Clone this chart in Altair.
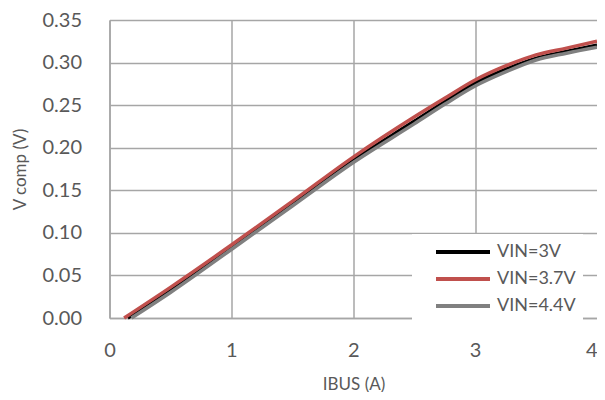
import altair as alt
import pandas as pd

series_labels = ["VIN=3V", "VIN=3.7V", "VIN=4.4V"]
series_colors = ["#000000", "#c0504d", "#808080"]

ibus_3v = [0.15, 0.5, 1.0, 1.5, 2.0, 2.5, 2.75, 3.0, 3.25, 3.5, 3.75, 4.0]
vcomp_3v = [0.0, 0.033, 0.0834, 0.1345, 0.1856, 0.231, 0.254, 0.276, 0.292, 0.305, 0.313, 0.3206]

ibus_37v = [0.12, 0.5, 1.0, 1.5, 2.0, 2.5, 2.75, 3.0, 3.25, 3.5, 3.75, 4.0]
vcomp_37v = [0.0, 0.036, 0.0857, 0.137, 0.189, 0.236, 0.258, 0.2795, 0.296, 0.309, 0.317, 0.325]

ibus_44v = [0.18, 0.5, 1.0, 1.5, 2.0, 2.5, 2.75, 3.0, 3.25, 3.5, 3.75, 4.0]
vcomp_44v = [0.0, 0.030, 0.0805, 0.1315, 0.1826, 0.228, 0.251, 0.2725, 0.289, 0.303, 0.311, 0.318]

x_ticks = [0, 1, 2, 3, 4]
y_ticks = [0.0, 0.05, 0.10, 0.15, 0.20, 0.25, 0.30, 0.35]

rows = []
for lab, xs, ys in zip(series_labels,
                       [ibus_3v, ibus_37v, ibus_44v],
                       [vcomp_3v, vcomp_37v, vcomp_44v]):
    for i, (a, b) in enumerate(zip(xs, ys)):
        rows.append({"series": lab, "I": a, "V": b, "idx": i})
df = pd.DataFrame(rows)

FONT = "Lato"
GRID = "#a6a6a6"
TXT = "#595959"

chart = alt.Chart(df).mark_line(strokeWidth=3.5, interpolate="monotone").encode(
    x=alt.X("I:Q",
            scale=alt.Scale(domain=[0, 4], nice=False, zero=False),
            axis=alt.Axis(values=x_ticks, title="IBUS (A)", format="d",
                          grid=True, gridColor=GRID, gridWidth=1.5,
                          domainColor=GRID, domainWidth=1.5,
                          ticks=False, tickSize=0,
                          labelFont=FONT, labelFontSize=20, labelColor=TXT,
                          labelPadding=22, labelFlush=False,
                          labelAlign=alt.expr("datum.value == 4 ? 'right' : 'center'"),
                          titleFont=FONT, titleFontSize=17, titleColor=TXT,
                          titleFontWeight="normal",
                          titleX=244, titleY=66, titleBaseline="middle")),
    y=alt.Y("V:Q",
            scale=alt.Scale(domain=[0, 0.35], nice=False),
            axis=alt.Axis(values=y_ticks, title="V comp (V)", format=".2f",
                          grid=True, gridColor=GRID, gridWidth=1.5,
                          domainColor=GRID, domainWidth=1.5,
                          ticks=False, tickSize=0,
                          labelFont=FONT, labelFontSize=20, labelColor=TXT,
                          labelPadding=28, labelFlush=False,
                          titleFont=FONT, titleFontSize=17, titleColor=TXT,
                          titleFontWeight="normal",
                          titleX=-89, titleY=149, titleBaseline="middle")),
    color=alt.Color("series:N",
                    scale=alt.Scale(domain=series_labels, range=series_colors),
                    legend=alt.Legend(title=None, orient="none",
                                      legendX=302.5, legendY=214,
                                      fillColor="white", padding=7,
                                      symbolType="M-3,0H3", symbolSize=324,
                                      symbolStrokeWidth=4,
                                      symbolOffset=33,
                                      labelFont=FONT, labelFontSize=18,
                                      labelColor=TXT, labelOffset=23,
                                      rowPadding=7)),
    order="idx:Q",
).properties(
    width=487.5, height=298,
    autosize=alt.AutoSizeParams(type="none"),
    padding={"left": 101.5, "top": 12, "right": 0, "bottom": 74},
).configure_view(stroke=None)

chart.save("out.html", embed_options={"renderer": "svg", "actions": False})
